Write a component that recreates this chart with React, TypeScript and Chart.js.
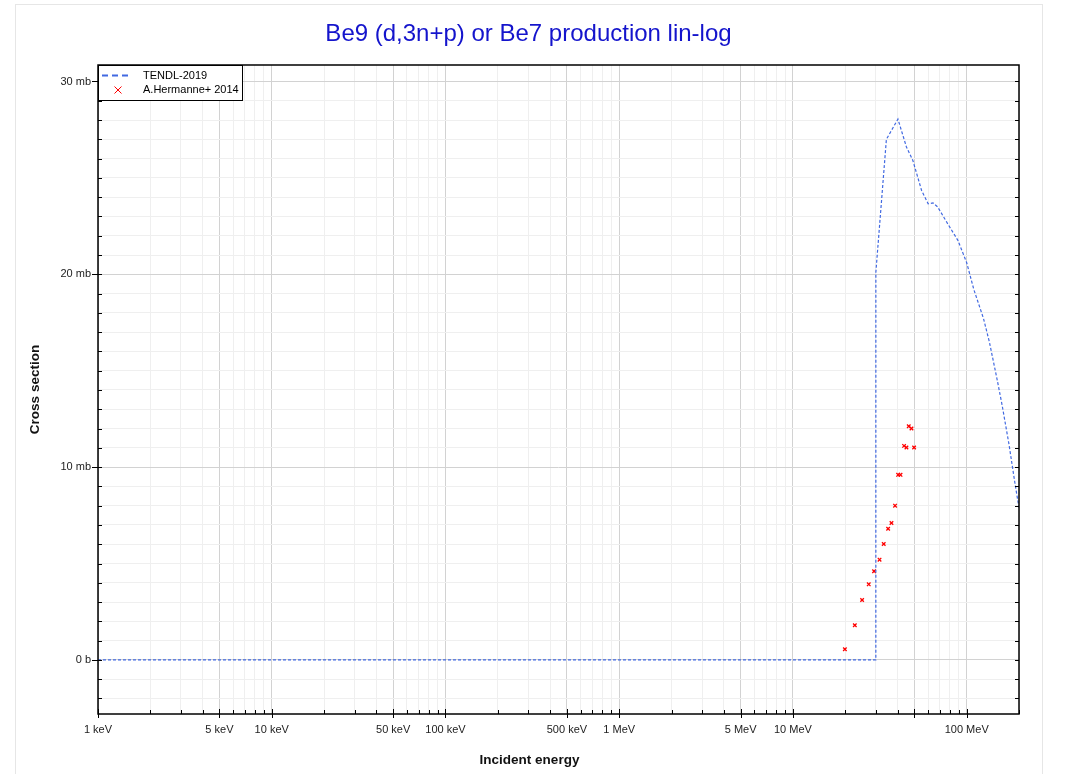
import React, { useEffect, useRef } from "react";
import { Chart, registerables } from "chart.js";

Chart.register(...registerables);

const TITLE = "Be9 (d,3n+p) or Be7 production lin-log";
const X_TITLE = "Incident energy";
const Y_TITLE = "Cross section";

// TENDL-2019 evaluation (energy in MeV, cross section in mb)
const TENDL_LABEL = "TENDL-2019";
const TENDL_E = [0.001, 29.99, 30.0, 34.5, 40.2, 45, 49, 55, 60, 64, 68, 78, 89, 100, 110, 125, 135, 150, 160, 175, 190, 200];
const TENDL_XS = [0, 0, 20.1, 27.0, 28.05, 26.6, 25.9, 24.35, 23.66, 23.7, 23.5, 22.6, 21.76, 20.6, 19.2, 17.7, 16.5, 14.5, 13.2, 11.2, 9.1, 7.9];

// Experimental data (energy in MeV, cross section in mb)
const EXP_LABEL = "A.Hermanne+ 2014";
const EXP_E = [19.9, 22.7, 25.0, 27.3, 29.3, 31.5, 33.3, 35.3, 36.9, 38.7, 40.3, 41.6, 43.6, 45.0, 46.4, 48.1, 49.8];
const EXP_XS = [0.55, 1.8, 3.11, 3.92, 4.6, 5.2, 6.01, 6.8, 7.1, 8.0, 9.6, 9.6, 11.1, 11.02, 12.12, 12.0, 11.02];

// Axis ranges and tick labels
const X_MIN = 0.001;
const X_MAX = 200;
const Y_MIN = -2.805;
const Y_MAX = 30.855;
const X_TICK_VALUES = [0.001, 0.005, 0.01, 0.05, 0.1, 0.5, 1, 5, 10, 100];
const X_TICK_TEXT = ["1 keV", "5 keV", "10 keV", "50 keV", "100 keV", "500 keV", "1 MeV", "5 MeV", "10 MeV", "100 MeV"];
const Y_TICK_VALUES = [0, 10, 20, 30];
const Y_TICK_TEXT = ["0 b", "10 mb", "20 mb", "30 mb"];

const FONT = "'Liberation Sans', Arial, Helvetica, sans-serif";
const LINE_COLOR = "rgb(65,105,225)";
const EXP_COLOR = "#ff0000";
const TITLE_COLOR = "#1414cc";

function mantissa(v: number): number {
  const p = Math.pow(10, Math.floor(Math.log10(v) + 1e-9));
  return Math.round(v / p);
}
function isMajorX(v: number): boolean {
  const m = mantissa(v);
  return m === 1 || m === 5;
}
function isMajorY(v: number): boolean {
  return Math.abs(v % 10) < 1e-9;
}
function xTickList(): number[] {
  const out: number[] = [];
  for (let e = -3; e <= 2; e++) {
    for (let m = 1; m <= 9; m++) {
      const v = parseFloat((m * Math.pow(10, e)).toPrecision(6));
      if (v >= X_MIN - 1e-12 && v <= X_MAX + 1e-9) out.push(v);
    }
  }
  return out;
}
function yTickList(): number[] {
  const out: number[] = [];
  for (let v = Math.ceil(Y_MIN); v <= Math.floor(Y_MAX); v++) out.push(v);
  return out;
}
function labelFor(values: number[], texts: string[], v: number): string {
  for (let i = 0; i < values.length; i++) {
    if (Math.abs(values[i] - v) / Math.max(Math.abs(v), 1e-9) < 1e-6 || (values[i] === 0 && v === 0)) return texts[i];
  }
  return "";
}

const decorPlugin = {
  id: "decor",
  beforeDraw(chart: any) {
    const ctx = chart.ctx;
    ctx.save();
    ctx.fillStyle = "#ffffff";
    ctx.fillRect(0, 0, chart.width, chart.height);
    ctx.strokeStyle = "#e6e6e6";
    ctx.lineWidth = 1;
    ctx.strokeRect(15.5, 4.5, 1027, 800);
    ctx.restore();
  },
  afterDraw(chart: any) {
    const ctx = chart.ctx;
    const area = chart.chartArea;
    const xs = chart.scales.x;
    const ys = chart.scales.y;
    ctx.save();

    // frame
    ctx.strokeStyle = "#000";
    ctx.lineWidth = 1.5;
    ctx.strokeRect(area.left, area.top, area.right - area.left, area.bottom - area.top);

    // x ticks
    ctx.lineWidth = 1;
    ctx.beginPath();
    for (const t of xs.ticks) {
      const px = Math.round(xs.getPixelForValue(t.value)) + 0.5;
      if (px < area.left - 1 || px > area.right + 1) continue;
      if (isMajorX(t.value)) {
        ctx.moveTo(px, area.bottom - 5);
        ctx.lineTo(px, area.bottom + 4);
      } else {
        ctx.moveTo(px, area.bottom - 4);
        ctx.lineTo(px, area.bottom);
      }
    }
    // y ticks
    for (const t of ys.ticks) {
      const py = Math.round(ys.getPixelForValue(t.value)) + 0.5;
      if (isMajorY(t.value)) {
        ctx.moveTo(area.left - 6, py);
        ctx.lineTo(area.left + 4, py);
      } else {
        ctx.moveTo(area.left, py);
        ctx.lineTo(area.left + 4, py);
      }
      ctx.moveTo(area.right - 4, py);
      ctx.lineTo(area.right, py);
    }
    ctx.stroke();

    // title
    ctx.fillStyle = TITLE_COLOR;
    ctx.font = `24px ${FONT}`;
    ctx.textAlign = "center";
    ctx.textBaseline = "middle";
    ctx.fillText(TITLE, 528.5, 34);

    // axis titles
    ctx.fillStyle = "#111";
    ctx.font = `bold 13.5px ${FONT}`;
    ctx.fillText(X_TITLE, 529.5, 760);
    ctx.save();
    ctx.translate(35, (area.top + area.bottom) / 2);
    ctx.rotate(-Math.PI / 2);
    ctx.fillText(Y_TITLE, 0, 0);
    ctx.restore();

    // legend
    const lx = area.left;
    const ly = area.top;
    ctx.fillStyle = "#fff";
    ctx.fillRect(lx, ly, 144, 35);
    ctx.strokeStyle = "#000";
    ctx.lineWidth = 1;
    ctx.strokeRect(lx + 0.5, ly + 0.5, 144, 35);
    ctx.strokeStyle = LINE_COLOR;
    ctx.lineWidth = 2;
    ctx.setLineDash([6, 4]);
    ctx.beginPath();
    ctx.moveTo(lx + 4, ly + 10.5);
    ctx.lineTo(lx + 31, ly + 10.5);
    ctx.stroke();
    ctx.setLineDash([]);
    ctx.strokeStyle = EXP_COLOR;
    ctx.lineWidth = 1;
    const cx = lx + 20;
    const cy = ly + 25;
    ctx.beginPath();
    ctx.moveTo(cx - 3.5, cy - 3.5);
    ctx.lineTo(cx + 3.5, cy + 3.5);
    ctx.moveTo(cx + 3.5, cy - 3.5);
    ctx.lineTo(cx - 3.5, cy + 3.5);
    ctx.stroke();
    ctx.fillStyle = "#000";
    ctx.font = `11px ${FONT}`;
    ctx.textAlign = "left";
    ctx.textBaseline = "middle";
    ctx.fillText(TENDL_LABEL, lx + 45, ly + 11);
    ctx.fillText(EXP_LABEL, lx + 45, ly + 25);

    ctx.restore();
  },
};

export default function App() {
  const ref = useRef<HTMLCanvasElement | null>(null);
  useEffect(() => {
    if (!ref.current) return;
    const tendl = TENDL_E.map((e, i) => ({ x: e, y: TENDL_XS[i] }));
    const exp = EXP_E.map((e, i) => ({ x: e, y: EXP_XS[i] }));
    const chart = new Chart(ref.current, {
      type: "scatter",
      data: {
        datasets: [
          {
            label: TENDL_LABEL,
            data: tendl,
            showLine: true,
            borderColor: LINE_COLOR,
            backgroundColor: LINE_COLOR,
            borderWidth: 1.2,
            borderDash: [3, 2],
            pointRadius: 0,
            tension: 0,
            fill: false,
          } as any,
          {
            label: EXP_LABEL,
            data: exp,
            showLine: false,
            pointStyle: "crossRot",
            pointRadius: 2.5,
            borderColor: EXP_COLOR,
            backgroundColor: EXP_COLOR,
            borderWidth: 1.3,
          } as any,
        ],
      },
      options: {
        animation: false,
        responsive: false,
        devicePixelRatio: 1,
        layout: { padding: { top: 65, right: 48, left: 0, bottom: 0 } },
        plugins: {
          legend: { display: false },
          title: { display: false },
          tooltip: { enabled: false },
        },
        scales: {
          x: {
            type: "logarithmic",
            min: X_MIN,
            max: X_MAX,
            afterBuildTicks: (scale: any) => {
              scale.ticks = xTickList().map((v) => ({ value: v }));
            },
            afterFit: (scale: any) => {
              scale.height = 60;
            },
            grid: {
              drawTicks: false,
              lineWidth: 1,
              color: (c: any) => (c.tick && isMajorX(c.tick.value) ? "#d2d2d2" : "#efefef"),
            },
            border: { display: false },
            ticks: {
              autoSkip: false,
              maxRotation: 0,
              minRotation: 0,
              padding: 9,
              color: "#222",
              font: { family: FONT, size: 11 },
              callback: (v: any) => labelFor(X_TICK_VALUES, X_TICK_TEXT, Number(v)),
            },
          },
          y: {
            type: "linear",
            min: Y_MIN,
            max: Y_MAX,
            afterBuildTicks: (scale: any) => {
              scale.ticks = yTickList().map((v) => ({ value: v }));
            },
            afterFit: (scale: any) => {
              scale.width = 98;
            },
            grid: {
              drawTicks: false,
              lineWidth: 1,
              color: (c: any) => (c.tick && isMajorY(c.tick.value) ? "#d2d2d2" : "#efefef"),
            },
            border: { display: false },
            ticks: {
              autoSkip: false,
              padding: 7,
              color: "#222",
              font: { family: FONT, size: 11 },
              callback: (v: any) => labelFor(Y_TICK_VALUES, Y_TICK_TEXT, Number(v)),
            },
          },
        },
      } as any,
      plugins: [decorPlugin],
    });
    return () => chart.destroy();
  }, []);
  return (
    <div style={{ position: "fixed", left: 0, top: 0, width: 1067, height: 774, background: "#fff" }}>
      <canvas ref={ref} width={1067} height={774} style={{ display: "block" }} />
    </div>
  );
}
